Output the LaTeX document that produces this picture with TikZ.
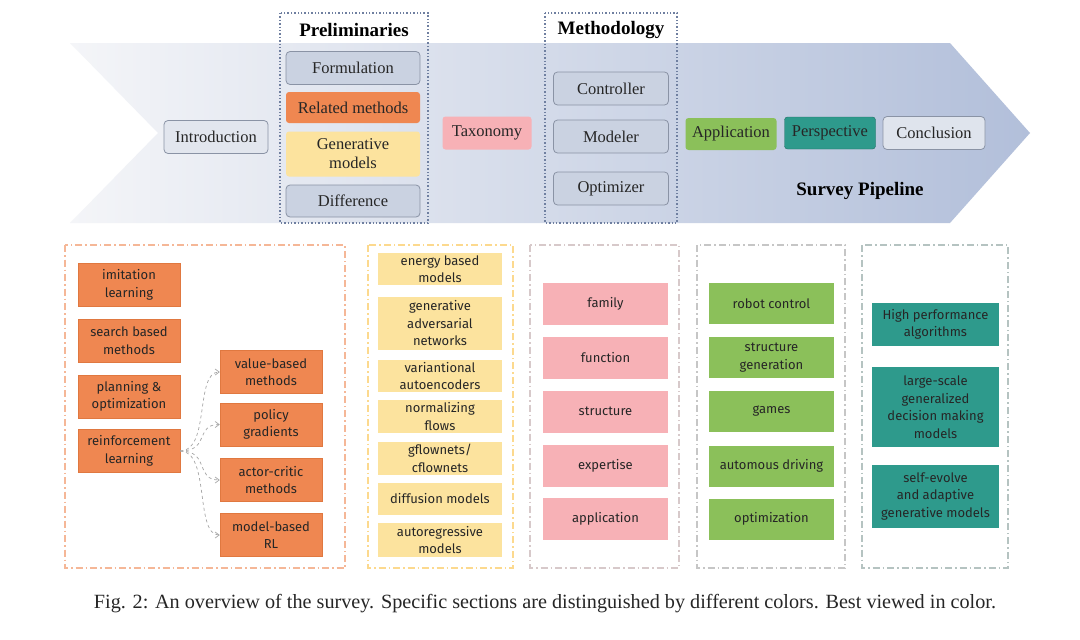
\documentclass[tikz,border=0pt]{standalone}
\usepackage{fontspec}
\setmainfont{Liberation Serif}
\newfontfamily\hand{Fira Sans}
\usetikzlibrary{arrows.meta}
\definecolor{bandL}{HTML}{F4F5F8}
\definecolor{bandR}{HTML}{B2BFDA}
\definecolor{tbfill}{HTML}{CAD2E1}
\definecolor{tbdraw}{HTML}{8A93A5}
\definecolor{dotc}{HTML}{6F7FA0}
\definecolor{orng}{HTML}{EF8751}
\definecolor{orngd}{HTML}{E07840}
\definecolor{ylw}{HTML}{FCE39E}
\definecolor{pnk}{HTML}{F7B1B6}
\definecolor{grn}{HTML}{8BC05A}
\definecolor{tel}{HTML}{2E9A8C}
\definecolor{txt}{HTML}{262626}
\tikzset{
  topbox/.style={draw=tbdraw, fill=tbfill, rounded corners=4pt, line width=0.8pt, inner sep=0pt, align=center, font=\fontsize{16.5}{19}\selectfont, text=txt},
  flatbox/.style={rounded corners=3pt, inner sep=0pt, align=center, font=\fontsize{16.5}{19}\selectfont, text=txt},
  ttl/.style={font=\bfseries\fontsize{19}{22}\selectfont, text=black},
  dotbox/.style={draw=dotc, line width=1.4pt, dotted},
  botbox/.style={inner sep=0pt, align=center, font=\hand\fontsize{13}{17.5}\selectfont, text=txt},
  obox/.style={botbox, fill=orng, draw=orngd, line width=0.5pt, minimum width=102, minimum height=43},
  ybox/.style={botbox, fill=ylw, minimum width=124},
  pbox/.style={botbox, fill=pnk, minimum width=125, minimum height=42},
  gbox/.style={botbox, fill=grn, minimum width=125, minimum height=41},
  tbox/.style={botbox, fill=tel, minimum width=127, text=black!85},
  panel/.style={line width=1.1pt, dash pattern=on 7pt off 3pt on 1.5pt off 3pt},
  rlarrow/.style={draw=gray!70, dashed, line width=0.7pt, -{Straight Barb[length=4pt,width=6pt]}}
}
\begin{document}
\begin{tikzpicture}[x=1pt,y=-1pt]
\useasboundingbox (0,0) rectangle (1080,640);
\fill[white] (0,0) rectangle (1080,640);
% band
\shade[left color=bandL, right color=bandR] (70,43) -- (950,43) -- (1030,133) -- (950,223) -- (70,223) -- (158,133) -- cycle;
% dotted groups
\draw[dotbox] (280,13) rectangle (428,223);
\draw[dotbox] (545,13) rectangle (677,223);
\node[ttl] (prelim) at (354,30) {Preliminaries};
\node[ttl] (method) at (611,30) {Methodology};
% top boxes
\node[topbox, fill=tbfill!55, minimum width=104, minimum height=33] (intro) at (216,137) {Introduction};
\node[topbox, minimum width=134, minimum height=33] (form) at (353,68) {Formulation};
\node[flatbox, fill=orng, minimum width=134, minimum height=31] (rel) at (353,107.5) {Related methods};
\node[flatbox, fill=ylw, minimum width=134, minimum height=45] (gen) at (353,154) {Generative\\models};
\node[topbox, minimum width=134, minimum height=32] (diff) at (353,201) {Difference};
\node[flatbox, fill=pnk, minimum width=89, minimum height=33] (tax) at (487,133) {Taxonomy};
\node[topbox, minimum width=115, minimum height=33] (ctrl) at (611,88.5) {Controller};
\node[topbox, minimum width=115, minimum height=33] (mod) at (611,136.5) {Modeler};
\node[topbox, minimum width=115, minimum height=33] (opt) at (611,188.5) {Optimizer};
\node[flatbox, fill=grn, minimum width=91, minimum height=32] (app) at (731,134) {Application};
\node[flatbox, fill=tel, draw=tel!70!black, minimum width=91, minimum height=32] (persp) at (830,133) {Perspective};
\node[topbox, fill=tbfill!60, minimum width=102, minimum height=33] (concl) at (934,133) {Conclusion};
\node[ttl] (pipe) at (860,191) {Survey Pipeline};
% panels
\draw[panel, draw=orng!60] (65,245) rectangle (345,568);
\draw[panel, draw=ylw!90!orange] (368,245) rectangle (513,568);
\draw[panel, draw=pnk!40!gray!50] (530,245) rectangle (679,568);
\draw[panel, draw=gray!45] (697,245) rectangle (845,568);
\draw[panel, draw=tel!25!gray!50] (862,245) rectangle (1008,568);
% panel 1
\node[obox] (il) at (129,285) {imitation\\learning};
\node[obox] (sb) at (129,340.5) {search based\\methods};
\node[obox] (po) at (129,396.5) {planning \&\\optimization};
\node[obox] (rl) at (129,451) {reinforcement\\learning};
\node[obox] (vb) at (271,372) {value-based\\methods};
\node[obox] (pg) at (271,424.5) {policy\\gradients};
\node[obox] (ac) at (271,480) {actor-critic\\methods};
\node[obox] (mb) at (271,535) {model-based\\RL};
\draw[rlarrow] (rl.east) .. controls +(30,0) and +(-25,0) .. (vb.west);
\draw[rlarrow] (rl.east) .. controls +(30,0) and +(-25,0) .. (pg.west);
\draw[rlarrow] (rl.east) .. controls +(30,0) and +(-25,0) .. (ac.west);
\draw[rlarrow] (rl.east) .. controls +(30,0) and +(-25,0) .. (mb.west);
% panel 2
\node[ybox, minimum height=32] (ebm) at (440,269) {energy based\\models};
\node[ybox, minimum height=53] (gan) at (440,323.5) {generative\\adversarial\\networks};
\node[ybox, minimum height=32] (vae) at (440,376) {variantional\\autoencoders};
\node[ybox, minimum height=33] (nf) at (440,416.5) {normalizing\\flows};
\node[ybox, minimum height=33] (gfn) at (440,458.5) {gflownets/\\cflownets};
\node[ybox, minimum height=32] (dm) at (440,499) {diffusion models};
\node[ybox, minimum height=34] (ar) at (440,540) {autoregressive\\models};
% panel 3
\node[pbox] (fam) at (605.5,304) {family};
\node[pbox] (fun) at (605.5,357.5) {function};
\node[pbox] (str) at (605.5,411.5) {structure};
\node[pbox] (exp) at (605.5,466) {expertise};
\node[pbox] (apl) at (605.5,519) {application};
% panel 4
\node[gbox] (rc) at (771.5,303.5) {robot control};
\node[gbox] (sg) at (771.5,357.5) {structure\\generation};
\node[gbox] (gm) at (771.5,411.5) {games};
\node[gbox] (ad) at (771.5,466) {automous driving};
\node[gbox] (op) at (771.5,519) {optimization};
% panel 5
\node[tbox, minimum height=43] (hp) at (935.5,324.5) {High performance\\algorithms};
\node[tbox, minimum height=80] (ls) at (935.5,407) {large-scale\\generalized\\decision making\\models};
\node[tbox, minimum height=63] (se) at (935.5,496.5) {self-evolve\\and adaptive\\generative models};
% caption
\node[font=\fontsize{20.2}{24}\selectfont, text=txt] (cap) at (545,604) {Fig. 2: An overview of the survey. Specific sections are distinguished by different colors. Best viewed in color.};
\end{tikzpicture}
\end{document}
